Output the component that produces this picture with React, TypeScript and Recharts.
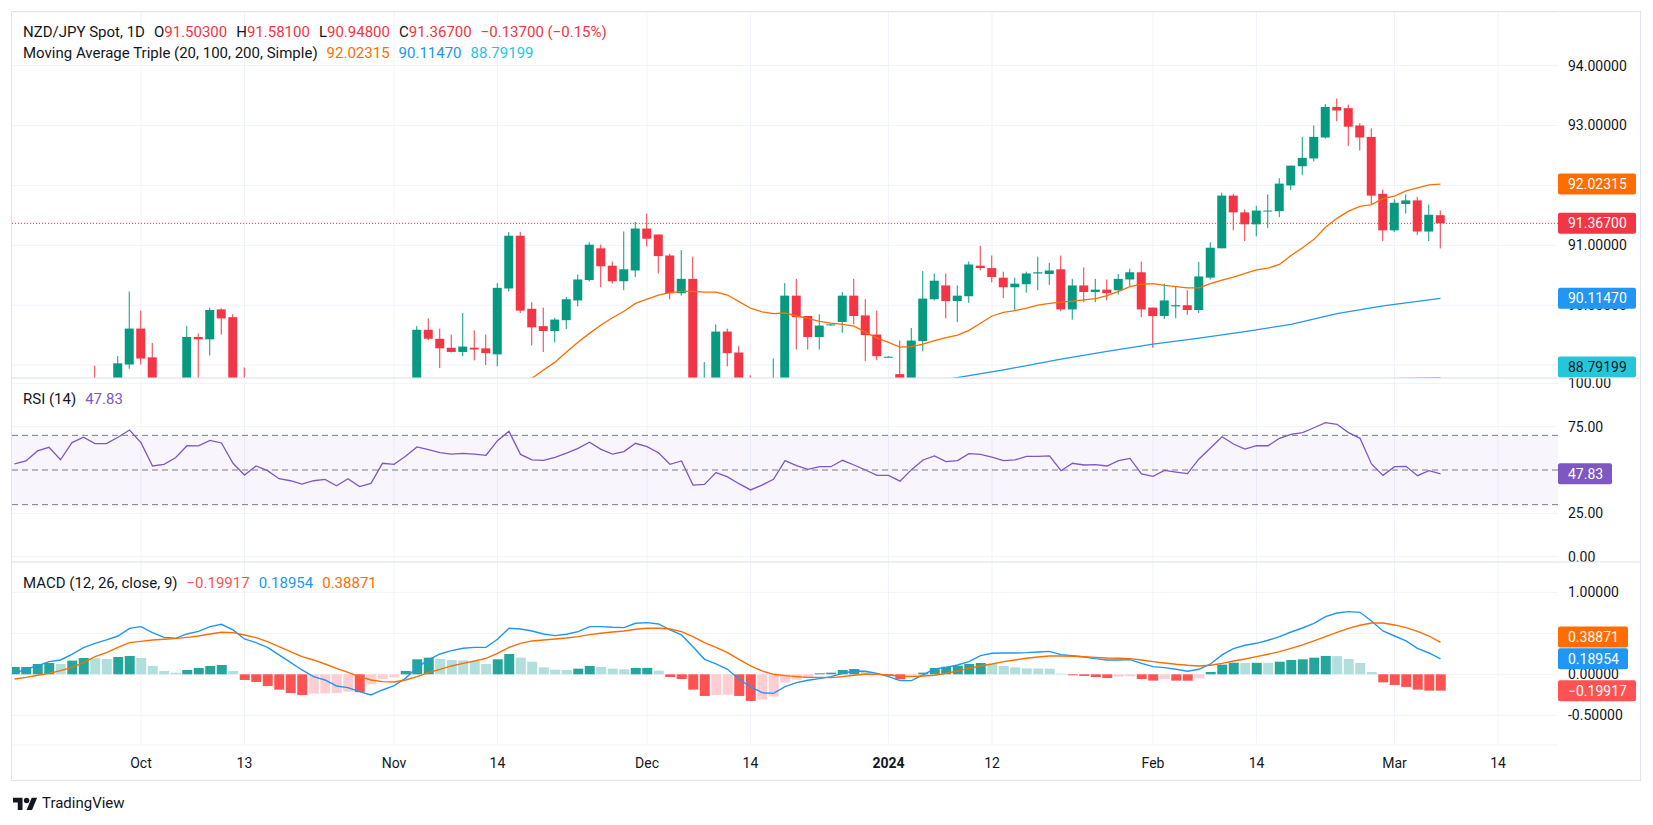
import { Bar, CartesianGrid, Cell, ComposedChart, Line, ReferenceArea, ReferenceLine, XAxis, YAxis } from "recharts";

const FONT = "Roboto, 'Noto Sans', sans-serif";
const TEXT = "#131722";
const GRID = "#F0F3FA";
const BORDER = "#E0E3EB";
const UP = "#089981";
const DOWN = "#F23645";
const MA20_COLOR = "#FF6D00";
const MA100_COLOR = "#2196F3";
const MA200_COLOR = "#26C6DA";
const RSI_COLOR = "#7E57C2";
const HIST_UP_STRONG = "#26A69A";
const HIST_UP_WEAK = "#B2DFDB";
const HIST_DOWN_WEAK = "#FFCDD2";
const HIST_DOWN_STRONG = "#FF5252";

// bar index 0 = 2 Oct 2023, daily bars on weekdays; index -11 sits on the left edge
const FIRST_INDEX = -11;
const X_DOMAIN: [number, number] = [-11.217, 123.217];

const TIME_TICKS = [0, 9, 22, 31, 44, 53, 65, 74, 88, 97, 109, 118];
const TIME_LABELS = ["Oct", "13", "Nov", "14", "Dec", "14", "2024", "12", "Feb", "14", "Mar", "14"];

const PRICE_TICKS = [89, 90, 91, 92, 93, 94];
const RSI_TICKS = [0, 25, 75, 100];
const MACD_TICKS = [-0.5, 0, 0.5, 1];

const PRICE_DOMAIN: [number, number] = [88.785, 94.895];
const RSI_DOMAIN: [number, number] = [-3.1, 103.1];
const MACD_DOMAIN: [number, number] = [-0.862, 1.3695];

// [bar index, open, high, low, close] - only bars that reach into the visible price range
const CANDLES: [number, number, number, number, number][] = [
  [-4, 88.7, 88.99, 88.3, 88.4],
  [-2, 88.55, 89.15, 88.45, 89.03],
  [-1, 89.01, 90.23, 88.94, 89.61],
  [0, 89.61, 89.91, 89.01, 89.11],
  [1, 89.13, 89.37, 88.4, 88.5],
  [4, 88.4, 89.65, 88.3, 89.47],
  [5, 89.47, 89.53, 88.7, 89.43],
  [6, 89.43, 89.96, 89.16, 89.92],
  [7, 89.93, 89.95, 89.51, 89.78],
  [8, 89.8, 89.85, 88.5, 88.6],
  [9, 88.6, 88.96, 88.1, 88.2],
  [24, 88.4, 89.65, 88.35, 89.59],
  [25, 89.59, 89.78, 89.42, 89.44],
  [26, 89.44, 89.61, 88.95, 89.28],
  [27, 89.29, 89.51, 89.21, 89.22],
  [28, 89.22, 89.87, 89.15, 89.31],
  [29, 89.29, 89.58, 89.08, 89.26],
  [30, 89.28, 89.51, 89.0, 89.2],
  [31, 89.18, 90.37, 88.98, 90.29],
  [32, 90.28, 91.22, 90.23, 91.16],
  [33, 91.16, 91.22, 89.87, 89.91],
  [34, 89.94, 90.05, 89.33, 89.63],
  [35, 89.65, 89.96, 89.22, 89.57],
  [36, 89.57, 89.79, 89.38, 89.76],
  [37, 89.75, 90.14, 89.6, 90.1],
  [38, 90.08, 90.51, 89.98, 90.43],
  [39, 90.42, 91.05, 90.4, 91.01],
  [40, 90.95, 91.01, 90.3, 90.65],
  [41, 90.66, 90.73, 90.36, 90.4],
  [42, 90.4, 91.23, 90.25, 90.6],
  [43, 90.58, 91.39, 90.47, 91.28],
  [44, 91.28, 91.53, 90.98, 91.11],
  [45, 91.18, 91.18, 90.53, 90.82],
  [46, 90.83, 90.86, 90.1, 90.2],
  [47, 90.2, 90.92, 90.16, 90.44],
  [48, 90.44, 90.81, 87.8, 88.55],
  [49, 88.5, 89.05, 88.3, 88.75],
  [50, 88.75, 89.68, 88.7, 89.56],
  [51, 89.56, 89.61, 88.98, 89.2],
  [52, 89.21, 89.32, 88.5, 88.65],
  [53, 88.65, 88.83, 88.1, 88.25],
  [55, 88.4, 89.11, 88.3, 88.7],
  [56, 88.7, 90.37, 88.6, 90.16],
  [57, 90.16, 90.44, 89.26, 89.8],
  [58, 89.82, 89.82, 89.26, 89.47],
  [59, 89.47, 89.85, 89.26, 89.66],
  [60, 89.67, 89.69, 89.66, 89.68],
  [61, 89.72, 90.22, 89.54, 90.16],
  [62, 90.16, 90.44, 89.68, 89.82],
  [63, 89.83, 90.1, 89.07, 89.5],
  [64, 89.51, 89.91, 89.08, 89.15],
  [65, 89.14, 89.15, 89.13, 89.14],
  [66, 88.85, 89.41, 88.4, 88.6],
  [67, 88.6, 89.62, 88.5, 89.41],
  [68, 89.4, 90.57, 89.23, 90.11],
  [69, 90.1, 90.53, 90.08, 90.41],
  [70, 90.33, 90.53, 89.78, 90.07],
  [71, 90.07, 90.33, 89.72, 90.16],
  [72, 90.15, 90.73, 90.04, 90.68],
  [73, 90.66, 90.99, 90.58, 90.62],
  [74, 90.62, 90.83, 90.38, 90.47],
  [75, 90.46, 90.56, 90.12, 90.3],
  [76, 90.3, 90.46, 89.91, 90.36],
  [77, 90.35, 90.56, 90.21, 90.53],
  [78, 90.53, 90.81, 90.25, 90.55],
  [79, 90.52, 90.71, 90.34, 90.58],
  [80, 90.6, 90.83, 89.9, 89.93],
  [81, 89.93, 90.44, 89.76, 90.33],
  [82, 90.33, 90.63, 90.05, 90.22],
  [83, 90.22, 90.44, 90.05, 90.26],
  [84, 90.26, 90.43, 90.08, 90.2],
  [85, 90.25, 90.52, 90.18, 90.44],
  [86, 90.43, 90.61, 90.32, 90.55],
  [87, 90.55, 90.73, 89.8, 89.93],
  [88, 89.96, 89.96, 89.29, 89.82],
  [89, 89.82, 90.36, 89.77, 90.08],
  [90, 89.98, 90.31, 89.78, 90.0],
  [91, 90.0, 90.25, 89.84, 89.92],
  [92, 89.92, 90.72, 89.87, 90.48],
  [93, 90.46, 91.05, 90.43, 90.96],
  [94, 90.95, 91.88, 90.95, 91.83],
  [95, 91.83, 91.86, 91.25, 91.55],
  [96, 91.55, 91.6, 91.07, 91.35],
  [97, 91.35, 91.66, 91.15, 91.58],
  [98, 91.57, 91.85, 91.29, 91.58],
  [99, 91.57, 92.12, 91.47, 92.03],
  [100, 92.0, 92.33, 91.92, 92.33],
  [101, 92.32, 92.81, 92.17, 92.46],
  [102, 92.45, 93.0, 92.4, 92.81],
  [103, 92.8, 93.36, 92.78, 93.31],
  [104, 93.31, 93.45, 93.07, 93.25],
  [105, 93.29, 93.35, 92.66, 92.98],
  [106, 93.0, 93.04, 92.58, 92.8],
  [107, 92.81, 92.95, 91.69, 91.83],
  [108, 91.86, 91.93, 91.07, 91.25],
  [109, 91.25, 91.77, 91.22, 91.71],
  [110, 91.69, 91.85, 91.53, 91.75],
  [111, 91.75, 91.81, 91.17, 91.23],
  [112, 91.23, 91.68, 91.07, 91.51],
  [113, 91.503, 91.581, 90.948, 91.367],
];

const LAST_CLOSE = 91.367;

// SMA 20 from bar 33 to the last bar
const MA20_START = 33;
const MA20 = [
  88.62, 88.78, 88.92, 89.05, 89.22, 89.38, 89.53, 89.67, 89.79, 89.9,
  90.03, 90.1, 90.17, 90.21, 90.23, 90.23, 90.22, 90.22, 90.17, 90.06,
  89.95, 89.89, 89.86, 89.87, 89.82, 89.78, 89.73, 89.7, 89.68, 89.65,
  89.55, 89.45, 89.38, 89.3, 89.31, 89.35, 89.41, 89.46, 89.5, 89.58,
  89.7, 89.82, 89.88, 89.91, 89.95, 90.0, 90.03, 90.05, 90.07, 90.09,
  90.11, 90.16, 90.23, 90.31, 90.35, 90.36, 90.33, 90.31, 90.29, 90.29,
  90.36, 90.42, 90.47, 90.53, 90.59, 90.62, 90.68, 90.83, 90.96, 91.1,
  91.3, 91.45, 91.57, 91.65, 91.68, 91.78, 91.82, 91.91, 91.96, 92.01,
  92.02315,
];

// SMA 100 and SMA 200, read at a few bars
const MA100: [number, number][] = [
  [70, 88.76], [75, 88.92], [80, 89.1], [84, 89.23], [88, 89.35], [92, 89.45],
  [96, 89.56], [100, 89.68], [104, 89.86], [108, 89.99], [113, 90.1147],
];
const MA200: [number, number][] = [[105, 88.76], [113, 88.79199]];

// RSI 14, one value per bar from index -11
const RSI = [
  53.6, 55.2, 61.0, 63.1, 55.9, 65.8, 68.9, 65.2, 65.2, 68.9, 73.1,
  65.8, 52.3, 53.3, 57.1, 64.0, 63.9, 67.1, 65.6, 53.9, 47.1,
  52.3, 49.6, 45.0, 43.8, 41.9, 43.8, 44.6, 40.9, 45.0, 40.4,
  42.3, 53.9, 53.3, 57.9, 63.3, 61.7, 60.0, 59.2, 59.6, 59.2,
  58.5, 66.9, 72.3, 59.0, 55.9, 55.6, 57.3, 59.8, 62.5, 66.0,
  61.9, 59.2, 60.6, 65.4, 63.5, 60.0, 53.3, 55.2, 41.3, 41.7,
  48.5, 46.0, 42.1, 38.5, 41.3, 44.6, 55.4, 52.5, 50.4, 51.9,
  51.9, 55.6, 52.9, 50.0, 46.9, 46.9, 43.6, 50.2, 55.8, 58.1,
  54.8, 55.4, 59.4, 59.0, 57.5, 55.4, 55.8, 57.9, 57.9, 58.1,
  49.6, 53.9, 52.9, 53.1, 52.3, 55.4, 56.7, 47.7, 46.3, 49.8,
  48.8, 47.9, 56.4, 62.7, 69.2, 65.0, 62.1, 64.0, 64.0, 68.3,
  70.6, 71.6, 74.4, 77.3, 76.4, 71.6, 68.3, 53.5, 46.9, 51.9,
  52.1, 46.7, 49.6, 47.83,
];

// MACD (12, 26, 9), one value per bar from index -11
const MACD_LINE = [
  0.012, 0.065, 0.102, 0.154, 0.175, 0.244, 0.325, 0.378, 0.419, 0.467, 0.561,
  0.581, 0.508, 0.451, 0.439, 0.492, 0.524, 0.581, 0.61, 0.541, 0.431,
  0.386, 0.329, 0.236, 0.146, 0.053, -0.028, -0.069, -0.142, -0.163, -0.211,
  -0.252, -0.191, -0.138, -0.049, 0.085, 0.175, 0.248, 0.289, 0.317, 0.329,
  0.329, 0.427, 0.561, 0.553, 0.528, 0.492, 0.472, 0.488, 0.52, 0.581,
  0.581, 0.573, 0.569, 0.622, 0.63, 0.614, 0.541, 0.48, 0.337, 0.183,
  0.126, 0.061, -0.061, -0.15, -0.224, -0.232, -0.15, -0.102, -0.073, -0.053,
  -0.028, 0.012, 0.041, 0.037, 0.012, -0.028, -0.077, -0.077, -0.008, 0.065,
  0.085, 0.114, 0.154, 0.228, 0.256, 0.26, 0.26, 0.264, 0.272, 0.28,
  0.24, 0.228, 0.211, 0.191, 0.175, 0.175, 0.179, 0.134, 0.093, 0.081,
  0.061, 0.037, 0.061, 0.126, 0.236, 0.313, 0.354, 0.378, 0.415, 0.459,
  0.516, 0.565, 0.622, 0.703, 0.748, 0.764, 0.756, 0.65, 0.528, 0.467,
  0.407, 0.317, 0.26, 0.18954,
];

const SIGNAL_LINE = [
  -0.057, -0.037, -0.012, 0.012, 0.045, 0.085, 0.142, 0.215, 0.264, 0.329, 0.386,
  0.402, 0.419, 0.427, 0.435, 0.451, 0.467, 0.492, 0.512, 0.508, 0.48,
  0.447, 0.398, 0.337, 0.276, 0.215, 0.175, 0.126, 0.073, 0.024, -0.028,
  -0.069, -0.089, -0.093, -0.069, -0.028, 0.02, 0.061, 0.102, 0.134, 0.163,
  0.195, 0.256, 0.329, 0.378, 0.407, 0.419, 0.431, 0.443, 0.459, 0.484,
  0.5, 0.516, 0.528, 0.549, 0.561, 0.561, 0.553, 0.52, 0.459, 0.386,
  0.329, 0.264, 0.183, 0.102, 0.041, 0.0, -0.016, -0.028, -0.037, -0.037,
  -0.04, -0.028, -0.012, 0.0, 0.0, -0.008, -0.024, -0.028, -0.02, -0.012,
  0.012, 0.041, 0.073, 0.102, 0.126, 0.154, 0.175, 0.195, 0.211, 0.224,
  0.224, 0.22, 0.215, 0.207, 0.199, 0.195, 0.191, 0.175, 0.154, 0.138,
  0.122, 0.11, 0.102, 0.11, 0.134, 0.163, 0.187, 0.215, 0.244, 0.276,
  0.317, 0.358, 0.407, 0.459, 0.512, 0.561, 0.598, 0.626, 0.626, 0.602,
  0.569, 0.524, 0.467, 0.38871,
];

const HISTOGRAM = [
  0.089, 0.089, 0.126, 0.138, 0.126, 0.167, 0.199, 0.195, 0.187, 0.211, 0.224,
  0.199, 0.102, 0.041, 0.02, 0.053, 0.077, 0.102, 0.114, 0.041, -0.069,
  -0.093, -0.142, -0.187, -0.228, -0.252, -0.236, -0.232, -0.23, -0.211, -0.218,
  -0.122, -0.057, -0.037, 0.041, 0.183, 0.203, 0.187, 0.175, 0.17, 0.163,
  0.126, 0.183, 0.248, 0.203, 0.154, 0.085, 0.057, 0.053, 0.069, 0.102,
  0.089, 0.069, 0.061, 0.077, 0.078, 0.045, -0.033, -0.057, -0.187, -0.264,
  -0.252, -0.25, -0.264, -0.325, -0.309, -0.272, -0.1, -0.065, -0.045, 0.012,
  0.02, 0.053, 0.065, 0.028, 0.005, -0.016, -0.061, -0.028, 0.02, 0.077,
  0.093, 0.106, 0.126, 0.138, 0.13, 0.102, 0.085, 0.073, 0.072, 0.069,
  0.008, -0.012, -0.02, -0.033, -0.045, -0.028, -0.024, -0.057, -0.077, -0.057,
  -0.077, -0.078, -0.049, 0.028, 0.118, 0.142, 0.138, 0.14, 0.139, 0.154,
  0.175, 0.183, 0.203, 0.224, 0.222, 0.187, 0.138, 0.028, -0.098, -0.13,
  -0.154, -0.187, -0.199, -0.19917,
];

const candleMap = new Map(CANDLES.map((c) => [c[0], c]));
const ma100Map = new Map(MA100);
const ma200Map = new Map(MA200);

function histColor(k: number) {
  const v = HISTOGRAM[k];
  const prev = k > 0 ? HISTOGRAM[k - 1] : v;
  if (v >= 0) return v >= prev ? HIST_UP_STRONG : HIST_UP_WEAK;
  return v <= prev ? HIST_DOWN_STRONG : HIST_DOWN_WEAK;
}

const rows = RSI.map((rsi, k) => {
  const i = FIRST_INDEX + k;
  const c = candleMap.get(i);
  const m = i - MA20_START;
  return {
    i,
    rsi,
    macd: MACD_LINE[k],
    signal: SIGNAL_LINE[k],
    hist: HISTOGRAM[k],
    range: c ? [c[3], c[2]] : null,
    o: c ? c[1] : null,
    h: c ? c[2] : null,
    l: c ? c[3] : null,
    c: c ? c[4] : null,
    ma20: m >= 0 && m < MA20.length ? MA20[m] : null,
    ma100: ma100Map.get(i) ?? null,
    ma200: ma200Map.get(i) ?? null,
  };
});

function Candle(props: any) {
  const { x, y, width, height, payload } = props;
  if (!payload || payload.o == null) return null;
  const { o, h, l, c } = payload;
  const cx = x + width / 2;
  const k = h > l ? height / (h - l) : 0;
  const yOf = (v: number) => y + (h - v) * k;
  const top = yOf(Math.max(o, c));
  const bottom = yOf(Math.min(o, c));
  const color = c >= o ? UP : DOWN;
  return (
    <g>
      <line x1={cx} x2={cx} y1={y} y2={y + height} stroke={color} strokeWidth={1} />
      <rect x={cx - 4.5} y={top} width={9} height={Math.max(1, bottom - top)} fill={color} />
    </g>
  );
}

function Badge(props: any) {
  const { viewBox, text, bg, fg = "#ffffff", w = 78, shift = 0, maxBottom } = props;
  if (!viewBox) return null;
  const x = viewBox.x + viewBox.width;
  let cy = viewBox.y + shift;
  if (maxBottom != null) cy = Math.min(cy, maxBottom - 10.5);
  return (
    <g>
      <rect x={x} y={cy - 10.5} width={w} height={21} rx={2} fill={bg} />
      <text x={x + 10} y={cy} dy="0.35em" fontSize={14} fontFamily={FONT} fill={fg}>
        {text}
      </text>
    </g>
  );
}

function TimeTick(props: any) {
  const { x, y, payload } = props;
  const label = TIME_LABELS[TIME_TICKS.indexOf(payload.value)];
  return (
    <text
      x={x}
      y={y + 18}
      dy="0.35em"
      textAnchor="middle"
      fontSize={14}
      fontFamily={FONT}
      fontWeight={label === "2024" ? 700 : 400}
      fill={TEXT}
    >
      {label}
    </text>
  );
}

const tickStyle = { fill: TEXT, fontSize: 14, fontFamily: FONT };
const zeroMargin = { top: 0, right: 0, bottom: 0, left: 0 };

function ValueAxis({ domain, ticks, digits }: { domain: [number, number]; ticks: number[]; digits: number }) {
  return (
    <YAxis
      orientation="right"
      width={82}
      domain={domain}
      allowDataOverflow
      ticks={ticks}
      interval={0}
      tickFormatter={(v) => Number(v).toFixed(digits)}
      axisLine={false}
      tickLine={false}
      tickSize={0}
      tickMargin={10}
      tick={tickStyle}
    />
  );
}

// Same plot box as a pane, drawn on top so the value badges cover the tick labels
function BadgeLayer({
  top,
  height,
  domain,
  xAxisHeight = 0,
  children,
}: {
  top: number;
  height: number;
  domain: [number, number];
  xAxisHeight?: number;
  children: React.ReactNode;
}) {
  return (
    <div style={{ position: "absolute", left: 12, top }}>
      <ComposedChart width={1628} height={height} data={rows} margin={zeroMargin}>
        {xAxisHeight > 0 ? (
          <XAxis dataKey="i" type="number" domain={X_DOMAIN} allowDataOverflow height={xAxisHeight} tick={false} axisLine={false} tickLine={false} />
        ) : (
          <XAxis dataKey="i" type="number" domain={X_DOMAIN} allowDataOverflow hide />
        )}
        <YAxis orientation="right" width={82} domain={domain} allowDataOverflow tick={false} axisLine={false} tickLine={false} />
        {children}
      </ComposedChart>
    </div>
  );
}

function Legend({ top, children }: { top: number; children: React.ReactNode }) {
  return (
    <div
      style={{
        position: "absolute",
        left: 23,
        top,
        fontFamily: FONT,
        fontSize: 15,
        lineHeight: "20px",
        color: TEXT,
        whiteSpace: "nowrap",
      }}
    >
      {children}
    </div>
  );
}

const gap = { marginLeft: 9 };

export default function App() {
  return (
    <div style={{ position: "relative", width: 1653, height: 825, background: "#ffffff", overflow: "hidden" }}>
      <style>{"body{margin:0}"}</style>

      {/* RSI pane */}
      <div style={{ position: "absolute", left: 12, top: 378 }}>
        <ComposedChart width={1628} height={184} data={rows} margin={zeroMargin}>
          <CartesianGrid stroke={GRID} verticalValues={TIME_TICKS} />
          <XAxis dataKey="i" type="number" domain={X_DOMAIN} allowDataOverflow hide ticks={TIME_TICKS} />
          {ValueAxis({ domain: RSI_DOMAIN, ticks: RSI_TICKS, digits: 2 })}
          <ReferenceArea y1={30} y2={70} fill="rgba(126,87,194,0.1)" stroke="none" />
          <ReferenceLine y={70} stroke="#787B86" strokeDasharray="6 4" />
          <ReferenceLine y={50} stroke="#787B86" strokeDasharray="6 4" />
          <ReferenceLine y={30} stroke="#787B86" strokeDasharray="6 4" />
          <Line dataKey="rsi" stroke={RSI_COLOR} strokeWidth={1.3} dot={false} activeDot={false} isAnimationActive={false} />
        </ComposedChart>
      </div>

      {/* MACD pane with the time axis */}
      <div style={{ position: "absolute", left: 12, top: 562 }}>
        <ComposedChart width={1628} height={218} data={rows} margin={zeroMargin}>
          <CartesianGrid stroke={GRID} verticalValues={TIME_TICKS} />
          <XAxis
            dataKey="i"
            type="number"
            domain={X_DOMAIN}
            allowDataOverflow
            ticks={TIME_TICKS}
            interval={0}
            height={35}
            axisLine={false}
            tickLine={false}
            tickSize={0}
            tickMargin={0}
            tick={<TimeTick />}
          />
          {ValueAxis({ domain: MACD_DOMAIN, ticks: MACD_TICKS, digits: 5 })}
          <Bar dataKey="hist" barSize={10} isAnimationActive={false}>
            {rows.map((r, k) => (
              <Cell key={r.i} fill={histColor(k)} />
            ))}
          </Bar>
          <Line dataKey="macd" stroke={MA100_COLOR} strokeWidth={1.4} dot={false} activeDot={false} isAnimationActive={false} />
          <Line dataKey="signal" stroke={MA20_COLOR} strokeWidth={1.4} dot={false} activeDot={false} isAnimationActive={false} />
        </ComposedChart>
      </div>

      {/* price pane */}
      <div style={{ position: "absolute", left: 12, top: 12 }}>
        <ComposedChart width={1628} height={366} data={rows} margin={zeroMargin}>
          <CartesianGrid stroke={GRID} verticalValues={TIME_TICKS} />
          <XAxis dataKey="i" type="number" domain={X_DOMAIN} allowDataOverflow hide ticks={TIME_TICKS} />
          {ValueAxis({ domain: PRICE_DOMAIN, ticks: PRICE_TICKS, digits: 5 })}
          <ReferenceLine y={LAST_CLOSE} stroke={DOWN} strokeDasharray="1 2" />
          <Bar dataKey="range" shape={<Candle />} barSize={9} isAnimationActive={false} />
          <Line dataKey="ma20" stroke={MA20_COLOR} strokeWidth={1.3} dot={false} activeDot={false} isAnimationActive={false} />
          <Line dataKey="ma100" stroke={MA100_COLOR} strokeWidth={1.3} dot={false} activeDot={false} connectNulls isAnimationActive={false} />
          <Line dataKey="ma200" stroke={MA200_COLOR} strokeWidth={1.3} dot={false} activeDot={false} connectNulls isAnimationActive={false} />
        </ComposedChart>
      </div>

      {/* value badges on the right-hand scales */}
      <BadgeLayer top={378} height={184} domain={RSI_DOMAIN}>
        <ReferenceLine y={47.83} strokeOpacity={0} label={<Badge text="47.83" bg={RSI_COLOR} w={54} />} />
      </BadgeLayer>
      <BadgeLayer top={562} height={218} domain={MACD_DOMAIN} xAxisHeight={35}>
        <ReferenceLine y={0.38871} strokeOpacity={0} label={<Badge text="0.38871" bg={MA20_COLOR} w={70} shift={-5.4} />} />
        <ReferenceLine y={0.18954} strokeOpacity={0} label={<Badge text="0.18954" bg={MA100_COLOR} w={70} />} />
        <ReferenceLine y={-0.19917} strokeOpacity={0} label={<Badge text="−0.19917" bg={HIST_DOWN_STRONG} w={78} />} />
      </BadgeLayer>
      <BadgeLayer top={12} height={366} domain={PRICE_DOMAIN}>
        <ReferenceLine y={92.02315} strokeOpacity={0} label={<Badge text="92.02315" bg={MA20_COLOR} />} />
        <ReferenceLine y={LAST_CLOSE} strokeOpacity={0} label={<Badge text="91.36700" bg={DOWN} />} />
        <ReferenceLine y={90.1147} strokeOpacity={0} label={<Badge text="90.11470" bg={MA100_COLOR} />} />
        <ReferenceLine
          y={88.79199}
          strokeOpacity={0}
          ifOverflow="visible"
          label={<Badge text="88.79199" bg={MA200_COLOR} fg={TEXT} maxBottom={365.5} />}
        />
      </BadgeLayer>

      {/* frame and pane separators */}
      <svg style={{ position: "absolute", left: 0, top: 0, pointerEvents: "none" }} width={1653} height={825}>
        <rect x={11.5} y={11.5} width={1629} height={769} fill="none" stroke={BORDER} />
        <line x1={12} x2={1640} y1={378} y2={378} stroke={BORDER} />
        <line x1={12} x2={1640} y1={562} y2={562} stroke={BORDER} />
        <g transform="translate(13,795) scale(0.68)">
          <path d="M14 22H7V11H0V4h14v18zM28 22h-8l7.5-18h8L28 22z" fill={TEXT} />
          <circle cx={20} cy={8} r={4} fill={TEXT} />
        </g>
        <text x={42} y={803} dy="0.35em" fontSize={15} fontFamily={FONT} fill={TEXT}>
          TradingView
        </text>
      </svg>

      <Legend top={22}>
        <span>NZD/JPY Spot, 1D</span>
        <span style={gap}>O</span>
        <span style={{ color: DOWN }}>91.50300</span>
        <span style={gap}>H</span>
        <span style={{ color: DOWN }}>91.58100</span>
        <span style={gap}>L</span>
        <span style={{ color: DOWN }}>90.94800</span>
        <span style={gap}>C</span>
        <span style={{ color: DOWN }}>91.36700</span>
        <span style={{ ...gap, color: DOWN }}>−0.13700 (−0.15%)</span>
      </Legend>
      <Legend top={43}>
        <span>Moving Average Triple (20, 100, 200, Simple)</span>
        <span style={{ ...gap, color: MA20_COLOR }}>92.02315</span>
        <span style={{ ...gap, color: MA100_COLOR }}>90.11470</span>
        <span style={{ ...gap, color: MA200_COLOR }}>88.79199</span>
      </Legend>
      <Legend top={389}>
        <span>RSI (14)</span>
        <span style={{ ...gap, color: RSI_COLOR }}>47.83</span>
      </Legend>
      <Legend top={573}>
        <span>MACD (12, 26, close, 9)</span>
        <span style={{ ...gap, color: HIST_DOWN_STRONG }}>−0.19917</span>
        <span style={{ ...gap, color: MA100_COLOR }}>0.18954</span>
        <span style={{ ...gap, color: MA20_COLOR }}>0.38871</span>
      </Legend>
    </div>
  );
}
